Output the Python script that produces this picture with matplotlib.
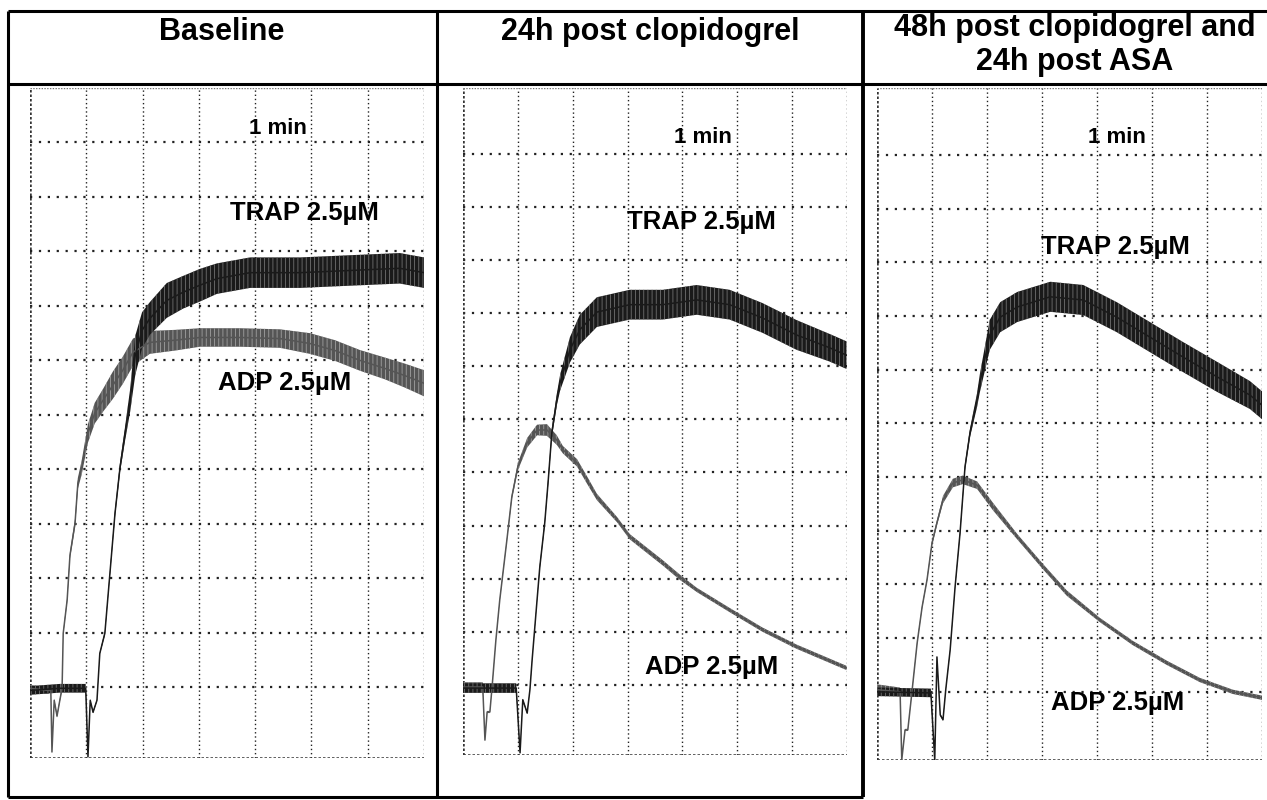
import numpy as np
import matplotlib
matplotlib.use("Agg")
from matplotlib import pyplot as plt
from matplotlib.lines import Line2D

plt.rcParams["font.family"] = ["Liberation Sans", "DejaVu Sans"]
plt.rcParams["hatch.linewidth"] = 0.6

titles = ["Baseline", "24h post clopidogrel", "48h post clopidogrel and\n24h post ASA"]
trap_label = "TRAP 2.5\u00b5M"
adp_label = "ADP 2.5\u00b5M"
scale_label = "1 min"

# x = time (min, one grid column each), y = grid divisions, noise = half width of the trace band

# baseline
adp1_t = [0.00, 0.32, 0.37, 0.39, 0.43, 0.48, 0.53, 0.57, 0.59, 0.66, 0.71, 0.80, 0.85, 0.92, 1.03, 1.15,
          1.30, 1.47, 1.65, 1.83, 2.13, 2.58, 3.02, 3.73, 4.44, 4.97, 5.42, 5.86, 6.31, 6.66, 7.00]
adp1_y = [0.98, 0.94, 0.94, -0.19, 0.76, 0.47, 0.76, 0.98, 1.99, 2.60, 3.42, 4.01, 4.74, 5.04, 5.66, 6.03,
          6.27, 6.54, 6.82, 7.15, 7.33, 7.37, 7.42, 7.42, 7.40, 7.31, 7.18, 7.00, 6.85, 6.72, 6.58]
adp1_n = [0.06, 0.06, 0.03, 0, 0.03, 0.03, 0.03, 0.03, 0.03, 0.05, 0.06, 0.08, 0.10, 0.13, 0.17, 0.19,
          0.21, 0.25, 0.25, 0.25, 0.21, 0.19, 0.17, 0.17, 0.17, 0.19, 0.19, 0.19, 0.20, 0.22, 0.24]

trap1_t = [0.00, 0.53, 0.99, 1.03, 1.07, 1.12, 1.19, 1.24, 1.33, 1.42, 1.51, 1.60, 1.69, 1.78, 1.87, 1.99,
           2.13, 2.43, 2.72, 3.02, 3.32, 3.91, 4.80, 5.68, 6.57, 7.00]
trap1_y = [0.94, 0.98, 0.98, -0.28, 0.76, 0.54, 0.76, 1.62, 1.99, 3.09, 4.19, 5.04, 5.66, 6.27, 7.09, 7.55,
           7.77, 8.10, 8.25, 8.38, 8.50, 8.61, 8.61, 8.65, 8.69, 8.61]
trap1_n = [0.08, 0.08, 0.08, 0, 0.02, 0.02, 0.02, 0.02, 0.04, 0.05, 0.07, 0.09, 0.13, 0.21, 0.36, 0.33,
           0.30, 0.32, 0.30, 0.30, 0.28, 0.28, 0.28, 0.28, 0.28, 0.28]

# 24h post clopidogrel
adp2_t = [0.00, 0.36, 0.40, 0.44, 0.49, 0.53, 0.60, 0.67, 0.80, 0.89, 1.00, 1.17, 1.35, 1.53, 1.71, 1.82,
          2.08, 2.26, 2.44, 2.81, 3.04, 3.64, 3.95, 4.26, 4.86, 5.46, 6.08, 6.99]
adp2_y = [0.96, 0.96, -0.04, 0.49, 0.49, 0.96, 1.85, 2.60, 3.73, 4.54, 5.11, 5.56, 5.80, 5.80, 5.61, 5.43,
          5.18, 4.86, 4.54, 4.11, 3.79, 3.30, 3.03, 2.79, 2.41, 2.04, 1.72, 1.32]
adp2_n = [0.09, 0.09, 0, 0.02, 0.02, 0.02, 0.02, 0.03, 0.03, 0.05, 0.07, 0.09, 0.10, 0.11, 0.09, 0.07,
          0.07, 0.07, 0.06, 0.05, 0.05, 0.05, 0.05, 0.04, 0.04, 0.04, 0.04, 0.04]

trap2_t = [0.00, 0.97, 1.04, 1.09, 1.17, 1.22, 1.26, 1.35, 1.40, 1.49, 1.55, 1.62, 1.71, 1.77, 1.95, 2.13,
           2.44, 3.04, 3.64, 4.26, 4.86, 5.46, 6.08, 6.68, 6.99]
trap2_y = [0.94, 0.94, -0.28, 0.72, 0.47, 0.91, 1.47, 2.60, 3.22, 4.05, 4.80, 5.75, 6.37, 6.69, 7.31, 7.69,
           8.02, 8.16, 8.16, 8.25, 8.16, 7.91, 7.59, 7.35, 7.21]
trap2_n = [0.09, 0.09, 0, 0.02, 0.02, 0.02, 0.02, 0.03, 0.05, 0.05, 0.07, 0.09, 0.11, 0.15, 0.24, 0.28,
           0.28, 0.28, 0.28, 0.28, 0.28, 0.28, 0.28, 0.26, 0.26]

# 48h post clopidogrel and 24h post ASA
adp3_t = [0.00, 0.42, 0.45, 0.51, 0.56, 0.62, 0.73, 0.82, 0.91, 1.00, 1.09, 1.20, 1.38, 1.56, 1.82, 2.11,
          2.55, 3.02, 3.45, 4.05, 4.65, 5.27, 5.87, 6.47, 7.00]
adp3_y = [1.04, 1.00, -0.27, 0.29, 0.29, 0.85, 1.91, 2.58, 3.09, 3.77, 4.15, 4.58, 4.89, 4.95, 4.85, 4.45,
          3.89, 3.33, 2.84, 2.34, 1.91, 1.54, 1.22, 1.00, 0.89]
adp3_n = [0.10, 0.08, 0, 0.02, 0.02, 0.02, 0.03, 0.03, 0.03, 0.05, 0.05, 0.07, 0.08, 0.08, 0.07, 0.07,
          0.05, 0.05, 0.05, 0.04, 0.04, 0.04, 0.04, 0.04, 0.04]

trap3_t = [0.00, 0.98, 1.05, 1.09, 1.15, 1.20, 1.25, 1.33, 1.42, 1.51, 1.60, 1.69, 1.82, 1.87, 2.05, 2.24,
           2.55, 3.15, 3.75, 4.36, 4.96, 5.56, 6.18, 6.78, 7.00]
trap3_y = [1.00, 0.98, -0.27, 1.65, 0.57, 0.48, 1.04, 1.78, 2.96, 3.96, 5.19, 5.82, 6.44, 6.75, 7.65, 7.98,
           8.17, 8.36, 8.30, 7.98, 7.61, 7.24, 6.87, 6.53, 6.34]
trap3_n = [0.08, 0.08, 0, 0.02, 0.02, 0.02, 0.02, 0.03, 0.03, 0.05, 0.07, 0.08, 0.13, 0.17, 0.28, 0.28,
           0.28, 0.28, 0.28, 0.28, 0.28, 0.28, 0.28, 0.26, 0.26]

W, H = 1267, 800
fig = plt.figure(figsize=(W / 100, H / 100), dpi=100)


def px_rect(x0, y0, x1, y1):
    return [x0 / W, 1 - y1 / H, (x1 - x0) / W, (y1 - y0) / H]


def frame_line(xs, ys, lw=2.2):
    fig.add_artist(Line2D([x / W for x in xs], [1 - y / H for y in ys], color="black", lw=lw,
                          solid_capstyle="butt", transform=fig.transFigure))


panels = [
    dict(rect=px_rect(30, 88, 424, 758), ylim=(-0.30, 12.0),
         adp=(adp1_t, adp1_y, adp1_n), trap=(trap1_t, trap1_y, trap1_n),
         lab_min=(4.40, 11.26), lab_trap=(4.88, 9.70), lab_adp=(4.53, 6.58)),
    dict(rect=px_rect(463, 88, 847, 755), ylim=(-0.32, 12.24),
         adp=(adp2_t, adp2_y, adp2_n), trap=(trap2_t, trap2_y, trap2_n),
         lab_min=(4.37, 11.30), lab_trap=(4.35, 9.72), lab_adp=(4.54, 1.34)),
    dict(rect=px_rect(877, 88, 1262, 760), ylim=(-0.27, 12.25),
         adp=(adp3_t, adp3_y, adp3_n), trap=(trap3_t, trap3_y, trap3_n),
         lab_min=(4.36, 11.32), lab_trap=(4.33, 9.29), lab_adp=(4.38, 0.80)),
]

for p in panels:
    ax = fig.add_axes(p["rect"])
    ax.set_xlim(0, 7)
    ax.set_ylim(*p["ylim"])
    ax.axis("off")

    # dotted chart-recorder grid
    for gx in range(1, 8):
        ax.axvline(gx, color="#222222", lw=1.0, ls=(0, (1, 2)), zorder=1)
    for gy in range(1, 12):
        ax.axhline(gy, color="#222222", lw=1.6, ls=(0, (1, 3)), zorder=1)
    ax.axvline(0, color="#333333", lw=1.8, ls=(0, (1, 0.8)), zorder=1)
    ax.axhline(p["ylim"][0], color="#333333", lw=1.8, ls=(0, (1, 0.8)), zorder=1)
    ax.axhline(p["ylim"][1], color="#777777", lw=1.0, ls=(0, (1, 1)), zorder=1)

    for (t, y, n), col, hcol in [(p["adp"], "#555555", "#a0a0a0"), (p["trap"], "#1a1a1a", "#707070")]:
        t = np.array(t)
        y = np.array(y)
        n = np.array(n)
        ax.fill_between(t, y - n, y + n, facecolor=col, edgecolor=hcol, hatch="||||", lw=0, zorder=2)
        ax.plot(t, y, color=col, lw=1.1, zorder=3)

    ax.text(*p["lab_min"], scale_label, ha="center", va="center", fontsize=16, fontweight="bold", zorder=4)
    ax.text(*p["lab_trap"], trap_label, ha="center", va="center", fontsize=18.5, fontweight="bold", zorder=4)
    ax.text(*p["lab_adp"], adp_label, ha="center", va="center", fontsize=18.5, fontweight="bold", zorder=4)

# header titles
fig.text(222 / W, 1 - 32 / H, titles[0], ha="center", va="center", fontsize=22, fontweight="bold")
fig.text(650 / W, 1 - 32 / H, titles[1], ha="center", va="center", fontsize=22, fontweight="bold")
fig.text(1075 / W, 1 - 45 / H, titles[2], ha="center", va="center", fontsize=22, fontweight="bold",
         linespacing=1.2)

# outer frame and panel dividers
frame_line([8, W], [11, 11])
frame_line([8, W], [84, 84])
frame_line([8, 8], [11, 797])
frame_line([437, 437], [11, 797])
frame_line([863, 863], [11, 797], lw=2.8)
frame_line([8, 863], [797, 797])

fig.savefig("out.png", dpi=100)
